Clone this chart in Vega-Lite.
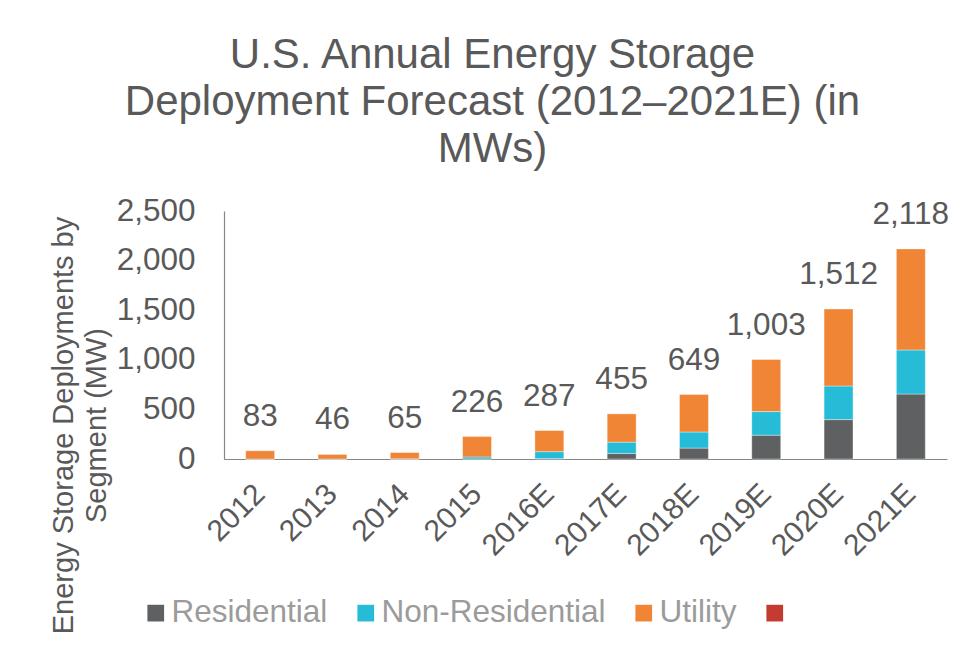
{
  "$schema": "https://vega.github.io/schema/vega-lite/v6.json",
  "width": 723,
  "height": 248,
  "autosize": {"type": "none"},
  "padding": {"left": 224, "top": 211, "right": 23, "bottom": 190},
  "background": "white",
  "config": {"view": {"stroke": null}, "font": "Liberation Sans"},
  "title": {
    "text": ["U.S. Annual Energy Storage", "Deployment Forecast (2012–2021E) (in", "MWs)"],
    "font": "Liberation Sans",
    "fontSize": 42,
    "fontWeight": "normal",
    "color": "#595959",
    "lineHeight": 47,
    "anchor": "middle",
    "frame": "group",
    "dx": -93,
    "offset": 24
  },
  "datasets": {
    "segments": [
      {"year": "2012", "segment": "Residential", "rank": 1, "value": 0},
      {"year": "2012", "segment": "Non-Residential", "rank": 2, "value": 0},
      {"year": "2012", "segment": "Utility", "rank": 3, "value": 83},
      {"year": "2013", "segment": "Residential", "rank": 1, "value": 0},
      {"year": "2013", "segment": "Non-Residential", "rank": 2, "value": 0},
      {"year": "2013", "segment": "Utility", "rank": 3, "value": 46},
      {"year": "2014", "segment": "Residential", "rank": 1, "value": 0},
      {"year": "2014", "segment": "Non-Residential", "rank": 2, "value": 2},
      {"year": "2014", "segment": "Utility", "rank": 3, "value": 63},
      {"year": "2015", "segment": "Residential", "rank": 1, "value": 1},
      {"year": "2015", "segment": "Non-Residential", "rank": 2, "value": 20},
      {"year": "2015", "segment": "Utility", "rank": 3, "value": 205},
      {"year": "2016E", "segment": "Residential", "rank": 1, "value": 4},
      {"year": "2016E", "segment": "Non-Residential", "rank": 2, "value": 70},
      {"year": "2016E", "segment": "Utility", "rank": 3, "value": 213},
      {"year": "2017E", "segment": "Residential", "rank": 1, "value": 55},
      {"year": "2017E", "segment": "Non-Residential", "rank": 2, "value": 115},
      {"year": "2017E", "segment": "Utility", "rank": 3, "value": 285},
      {"year": "2018E", "segment": "Residential", "rank": 1, "value": 110},
      {"year": "2018E", "segment": "Non-Residential", "rank": 2, "value": 162},
      {"year": "2018E", "segment": "Utility", "rank": 3, "value": 377},
      {"year": "2019E", "segment": "Residential", "rank": 1, "value": 240},
      {"year": "2019E", "segment": "Non-Residential", "rank": 2, "value": 238},
      {"year": "2019E", "segment": "Utility", "rank": 3, "value": 525},
      {"year": "2020E", "segment": "Residential", "rank": 1, "value": 397},
      {"year": "2020E", "segment": "Non-Residential", "rank": 2, "value": 339},
      {"year": "2020E", "segment": "Utility", "rank": 3, "value": 776},
      {"year": "2021E", "segment": "Residential", "rank": 1, "value": 655},
      {"year": "2021E", "segment": "Non-Residential", "rank": 2, "value": 444},
      {"year": "2021E", "segment": "Utility", "rank": 3, "value": 1019}
    ],
    "totals": [
      {"year": "2012", "total": 83},
      {"year": "2013", "total": 46},
      {"year": "2014", "total": 65},
      {"year": "2015", "total": 226},
      {"year": "2016E", "total": 287},
      {"year": "2017E", "total": 455},
      {"year": "2018E", "total": 649},
      {"year": "2019E", "total": 1003},
      {"year": "2020E", "total": 1512},
      {"year": "2021E", "total": 2118}
    ]
  },
  "encoding": {
    "x": {
      "field": "year",
      "type": "nominal",
      "sort": null,
      "scale": {"paddingInner": 0.6, "paddingOuter": 0.3},
      "axis": {
        "title": null,
        "labelAngle": -45,
        "labelAlign": "right",
        "labelBaseline": "middle",
        "labelFontSize": 30,
        "labelColor": "#595959",
        "labelPadding": 30,
        "ticks": false,
        "tickSize": 0,
        "domainColor": "#868686",
        "domainWidth": 1.2
      }
    }
  },
  "layer": [
    {
      "data": {"name": "segments"},
      "mark": {"type": "bar", "stroke": "#ffffff", "strokeWidth": 0.6, "strokeOpacity": 0.6},
      "encoding": {
        "y": {
          "field": "value",
          "type": "quantitative",
          "aggregate": "sum",
          "stack": "zero",
          "scale": {"domain": [0, 2500], "nice": false},
          "axis": {
            "values": [0, 500, 1000, 1500, 2000, 2500],
            "format": ",d",
            "grid": false,
            "ticks": false,
            "tickSize": 0,
            "labelPadding": 29,
            "labelFontSize": 31.5,
            "labelColor": "#595959",
            "domainColor": "#868686",
            "domainWidth": 1.2,
            "title": ["Energy Storage Deployments by", "Segment (MW)"],
            "titleFontSize": 29,
            "titleFontWeight": "normal",
            "titleColor": "#595959",
            "titleLineHeight": 33,
            "titleAngle": 270,
            "titleAlign": "center",
            "titleBaseline": "top",
            "titleX": -175,
            "titleY": 214
          }
        },
        "color": {
          "field": "segment",
          "type": "nominal",
          "scale": {
            "domain": ["Residential", "Non-Residential", "Utility", "Other"],
            "range": ["#5f6062", "#26bcd7", "#f08536", "#c43b31"]
          },
          "legend": {
            "title": null,
            "orient": "none",
            "direction": "horizontal",
            "legendX": -84,
            "legendY": 386,
            "padding": 0,
            "symbolType": "square",
            "symbolSize": 279,
            "symbolStrokeWidth": 0,
            "labelFontSize": 31.5,
            "labelColor": "#9b9b9b",
            "labelOffset": 0,
            "labelLimit": 0,
            "columnPadding": 22,
            "labelExpr": "datum.label == 'Other' ? '' : datum.label"
          }
        },
        "order": {"field": "rank", "type": "quantitative", "sort": "ascending"}
      }
    },
    {
      "data": {"name": "totals"},
      "mark": {"type": "text", "fontSize": 31.5, "color": "#595959", "baseline": "alphabetic", "align": "center", "dy": -25},
      "encoding": {
        "y": {"field": "total", "type": "quantitative"},
        "text": {"field": "total", "type": "quantitative", "format": ","}
      }
    }
  ]
}
